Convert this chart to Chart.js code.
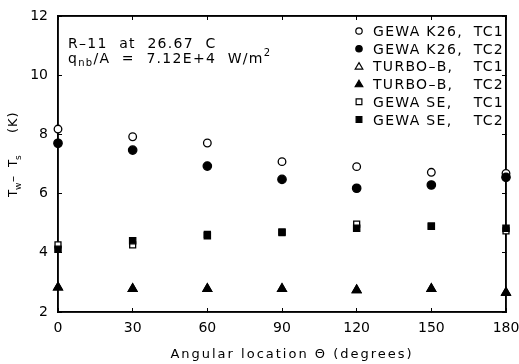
<!DOCTYPE html>
<html>
<head>
<meta charset="utf-8">
<script src="https://cdn.jsdelivr.net/npm/chart.js@4.4.0/dist/chart.umd.min.js"></script>
<style>
html,body{margin:0;padding:0;background:#fff;}
</style>
</head>
<body>
<canvas id="c" width="519" height="364"></canvas>
<script>
const angles = [0, 30, 60, 90, 120, 150, 180];
const k26_tc1 = [8.18, 7.92, 7.71, 7.08, 6.91, 6.72, 6.68];
const k26_tc2 = [7.70, 7.47, 6.93, 6.48, 6.18, 6.29, 6.55];
const turbo_tc1 = [2.83, 2.78, 2.78, 2.78, 2.74, 2.78, 2.66];
const turbo_tc2 = [2.83, 2.78, 2.78, 2.78, 2.74, 2.78, 2.65];
const se_tc1 = [4.27, 4.27, 4.62, 4.68, 4.97, 4.90, 4.74];
const se_tc2 = [4.12, 4.41, 4.58, 4.70, 4.83, 4.90, 4.83];
const xTicks = [0, 30, 60, 90, 120, 150, 180];
const yTicks = [2, 4, 6, 8, 10, 12];
const legendNames = ["GEWA K26,", "GEWA K26,", "TURBO\u2013B,", "TURBO\u2013B,", "GEWA SE,", "GEWA SE,"];
const legendTC = ["TC1", "TC2", "TC1", "TC2", "TC1", "TC2"];

const FONT = '"DejaVu Sans", sans-serif';
const LINE = '#000000';

const xMin = xTicks[0], xMax = xTicks[xTicks.length - 1];
const yMin = yTicks[0], yMax = yTicks[yTicks.length - 1];

function pts(arr){ return angles.map((a,i)=>({x:a,y:arr[i]})); }

const styles = [
  {ps:'circle', r:3.8, fill:'#fff'},
  {ps:'circle', r:4.2, fill:'#000'},
  {ps:'triangle', r:5, fill:'#fff'},
  {ps:'triangle', r:5, fill:'#000'},
  {ps:'rect', r:4.2, fill:'#fff'},
  {ps:'rect', r:4.4, fill:'#000'}
];
const series = [k26_tc1, k26_tc2, turbo_tc1, turbo_tc2, se_tc1, se_tc2];

const datasets = series.map((s,i)=>({
  label: legendNames[i] + ' ' + legendTC[i],
  data: pts(s),
  order: (i % 2 === 1) ? 0 : 1,
  pointStyle: styles[i].ps,
  pointRadius: styles[i].r,
  pointHoverRadius: styles[i].r,
  pointBackgroundColor: styles[i].fill,
  pointBorderColor: '#000',
  pointBorderWidth: 1.3,
  showLine: false,
  clip: false
}));

// plot frame drawn as a line through the axis limits
datasets.push({
  label: 'frame',
  type: 'line',
  data: [{x:xMin,y:yMin},{x:xMax,y:yMin},{x:xMax,y:yMax},{x:xMin,y:yMax},{x:xMin,y:yMin}],
  showLine: true,
  borderColor: LINE,
  borderWidth: 1.5,
  pointRadius: 0,
  fill: false,
  tension: 0,
  order: 5,
  clip: false
});

const deco = {
  id: 'deco',
  afterDraw(chart){
    const ctx = chart.ctx;
    ctx.save();
    ctx.fillStyle = '#000';
    ctx.textBaseline = 'alphabetic';
    ctx.textAlign = 'left';
    ctx.font = '14px ' + FONT;
    ctx.letterSpacing = '1.3px';
    ctx.fillText('R\u201311  at  26.67  C', 68, 48);
    let tx = 68, ty = 63;
    ctx.fillText('q', tx, ty); tx += ctx.measureText('q').width;
    ctx.font = '10px ' + FONT;
    ctx.fillText('nb', tx, ty + 3); tx += ctx.measureText('nb').width;
    ctx.font = '14px ' + FONT;
    const t2 = '/A  =  7.12E+4  W/m';
    ctx.fillText(t2, tx, ty); tx += ctx.measureText(t2).width;
    ctx.font = '10px ' + FONT;
    ctx.fillText('2', tx, ty - 7);
    // legend
    const rows = [36, 53.7, 71.4, 89.1, 106.8, 124.5];
    rows.forEach((ry,i)=>{
      const st = styles[i];
      ctx.letterSpacing = '0px';
      ctx.fillStyle = st.fill; ctx.strokeStyle = '#000'; ctx.lineWidth = 1.2;
      ctx.beginPath();
      const r = st.ps==='triangle'?3.8:3.2;
      const cy = ry - 5, cx = 359;
      if (st.ps==='circle') ctx.arc(cx, cy, r, 0, Math.PI*2);
      else if (st.ps==='rect') ctx.rect(cx-r*0.9, cy-r*0.9, r*1.8, r*1.8);
      else { ctx.moveTo(cx, cy-r); ctx.lineTo(cx+r, cy+r*0.7); ctx.lineTo(cx-r, cy+r*0.7); ctx.closePath(); }
      ctx.fill(); ctx.stroke();
      ctx.fillStyle = '#000';
      ctx.font = '14px ' + FONT;
      ctx.letterSpacing = '1.3px';
      ctx.textAlign = 'left';
      ctx.fillText(legendNames[i], 373, ry);
      ctx.textAlign = 'right';
      ctx.fillText(legendTC[i], 504, ry);
    });
    // x title
    ctx.textAlign = 'center';
    ctx.font = '13px ' + FONT;
    ctx.letterSpacing = '2px';
    ctx.fillText('Angular location \u0398 (degrees)', 292, 358);
    // y title rotated
    ctx.save();
    ctx.translate(17, 197);
    ctx.rotate(-Math.PI/2);
    ctx.textAlign = 'left';
    ctx.letterSpacing = '0px';
    ctx.font = '12px ' + FONT;
    ctx.fillText('T', 0, 0);
    ctx.font = '9px ' + FONT;
    ctx.fillText('w', 7, 4);
    ctx.font = '12px ' + FONT;
    ctx.fillText('\u2013', 15, 0);
    ctx.fillText('T', 30, 0);
    ctx.font = '9px ' + FONT;
    ctx.fillText('s', 37, 4);
    ctx.font = '13px ' + FONT;
    ctx.letterSpacing = '1px';
    ctx.fillText('(K)', 64, 0);
    ctx.restore();
    ctx.restore();
  }
};

const gridOpt = { display: true, drawOnChartArea: false, drawTicks: true, tickLength: -4, color: LINE, lineWidth: 1 };
const borderOpt = { display: true, color: LINE, width: 1.5 };

new Chart(document.getElementById('c'), {
  type: 'scatter',
  data: { datasets },
  options: {
    responsive: false,
    animation: false,
    events: [],
    layout: { padding: { top: 16, right: 13, left: 0, bottom: 0 } },
    plugins: { legend: { display: false }, tooltip: { enabled: false } },
    scales: {
      x: {
        type: 'linear', position: 'bottom', min: xMin, max: xMax,
        afterBuildTicks: s => { s.ticks = xTicks.map(v=>({value:v})); },
        afterFit: s => { s.height = 52; s.paddingLeft = 0; s.paddingRight = 0; },
        grid: gridOpt,
        border: borderOpt,
        ticks: { color: '#000', font: { family: FONT, size: 14 }, padding: 12, maxRotation: 0 }
      },
      x2: {
        type: 'linear', position: 'top', min: xMin, max: xMax,
        afterBuildTicks: s => { s.ticks = xTicks.map(v=>({value:v})); },
        afterFit: s => { s.height = 0; s.paddingLeft = 0; s.paddingRight = 0; },
        grid: gridOpt,
        border: borderOpt,
        ticks: { display: false }
      },
      y: {
        type: 'linear', position: 'left', min: yMin, max: yMax,
        afterBuildTicks: s => { s.ticks = yTicks.map(v=>({value:v})); },
        afterFit: s => { s.width = 58; s.paddingTop = 0; s.paddingBottom = 0; },
        grid: gridOpt,
        border: borderOpt,
        ticks: { color: '#000', font: { family: FONT, size: 14 }, padding: 14 }
      },
      y2: {
        type: 'linear', position: 'right', min: yMin, max: yMax,
        afterBuildTicks: s => { s.ticks = yTicks.map(v=>({value:v})); },
        afterFit: s => { s.width = 0; s.paddingTop = 0; s.paddingBottom = 0; },
        grid: gridOpt,
        border: borderOpt,
        ticks: { display: false }
      }
    }
  },
  plugins: [deco]
});
</script>
</body>
</html>
